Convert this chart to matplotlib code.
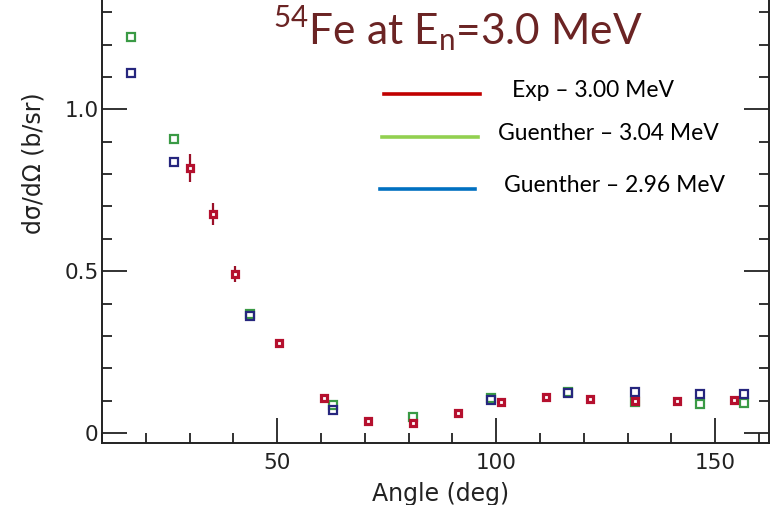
"""
54Fe 弾性散乱の微分断面積 (En = 3.0 MeV) の再現プロット。
"""

import matplotlib
matplotlib.use("Agg")
import matplotlib.pyplot as plt
from matplotlib.ticker import MultipleLocator, FixedLocator

# 実験値 (Exp - 3.00 MeV)
exp_angle = [30.2, 35.3, 40.3, 50.5, 60.6, 70.7, 81.1, 91.2, 101.2, 111.3, 121.4, 131.6, 141.2, 154.4]
exp_xs = [0.819, 0.677, 0.491, 0.278, 0.108, 0.037, 0.031, 0.062, 0.096, 0.111, 0.105, 0.099, 0.099, 0.102]
exp_err = [0.042, 0.034, 0.025, 0.006, 0.005, 0.004, 0.004, 0.006, 0.005, 0.006, 0.005, 0.006, 0.005, 0.005]

# Guenther - 3.04 MeV
g304_angle = [16.6, 26.5, 43.8, 62.7, 81.1, 98.8, 116.4, 131.6, 146.5, 156.7]
g304_xs = [1.224, 0.909, 0.368, 0.085, 0.049, 0.107, 0.126, 0.097, 0.090, 0.093]

# Guenther - 2.96 MeV
g296_angle = [16.6, 26.5, 43.8, 62.7, 98.8, 116.4, 131.6, 146.5, 156.7]
g296_xs = [1.113, 0.838, 0.362, 0.070, 0.103, 0.122, 0.127, 0.121, 0.121]

legend_labels = ["Exp \u2013 3.00 MeV", "Guenther \u2013 3.04 MeV", "Guenther \u2013 2.96 MeV"]
legend_colors = ["#c00000", "#92d050", "#0070c0"]

plt.rcParams["font.family"] = "DejaVu Sans"
plt.rcParams["mathtext.fontset"] = "custom"
plt.rcParams["mathtext.rm"] = "Lato"

fig = plt.figure(figsize=(7.75, 5.05), dpi=100)
ax = fig.add_axes([102 / 775, 62 / 505, 667 / 775, 443 / 505])

ax.plot(g304_angle, g304_xs, "s", ms=5.5, mfc="none", mec="#3a9a45", mew=1.6)
ax.plot(g296_angle, g296_xs, "s", ms=5.5, mfc="none", mec="#26267e", mew=1.6)
ax.errorbar(exp_angle, exp_xs, yerr=exp_err, fmt="s", ms=4.6, mfc="white",
            mec="#b5102e", mew=2.3, ecolor="#9a1028", elinewidth=1.6, capsize=0)

ax.set_xlim(10, 162.3)
ax.set_ylim(-0.031, 1.338)

ax.xaxis.set_major_locator(FixedLocator([50, 100, 150]))
ax.xaxis.set_minor_locator(MultipleLocator(10))
ax.yaxis.set_major_locator(FixedLocator([0, 0.5, 1.0]))
ax.yaxis.set_minor_locator(MultipleLocator(0.1))
ax.set_yticklabels(["0", "0.5", "1.0"])

ax.tick_params(which="both", direction="in", width=1.3, colors="#222222",
               labelcolor="#222222", labelsize=15.5, right=True, top=False)
ax.tick_params(which="major", length=18)
ax.tick_params(which="minor", length=7.5)
ax.tick_params(axis="x", pad=7)
ax.tick_params(axis="y", pad=2.5)

for side in ["left", "bottom", "right"]:
    ax.spines[side].set_linewidth(1.4)
    ax.spines[side].set_color("#222222")
ax.spines["top"].set_visible(False)

ax.set_xlabel("Angle (deg)", fontsize=17, color="#222222")
ax.xaxis.set_label_coords(0.507, -0.088)
ax.set_ylabel("d\u03c3/d\u03a9 (b/sr)", fontsize=17, color="#222222")
ax.yaxis.set_label_coords(-0.084, 0.632)

# タイトル (図中に配置)
fig.text(273 / 775, 1 - 45 / 505, r"$^{\mathrm{54}}$Fe at E$_{\mathrm{n}}$=3.0 MeV",
         fontsize=30.5, family="Lato", color="#6b2424", ha="left", va="baseline")

# 凡例 (線 + テキスト)
line_y = [94, 137, 189]
line_x0 = [384, 382, 380]
line_x1 = [480, 478, 475]
text_x = [512, 498, 504]
for lab, col, y, x0, x1, tx in zip(legend_labels, legend_colors, line_y, line_x0, line_x1, text_x):
    fig.add_artist(plt.Line2D([x0 / 775, x1 / 775], [1 - y / 505, 1 - y / 505],
                              color=col, lw=2.6, transform=fig.transFigure))
    fig.text(tx / 775, 1 - (y - 3) / 505, lab, fontsize=16.5, family="Lato",
             color="black", ha="left", va="center")

fig.savefig("out.png", dpi=100)
